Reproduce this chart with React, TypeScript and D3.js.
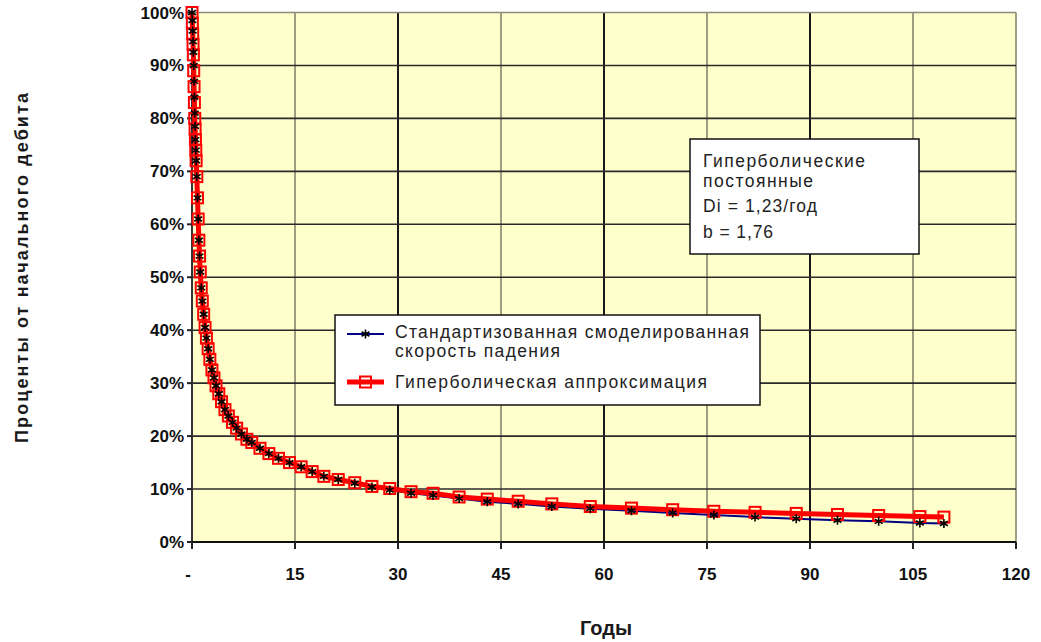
import React, { useRef, useEffect } from "react";
import * as d3 from "d3";

// years since start of production
const years = [
  0, 0.05, 0.1, 0.15, 0.2, 0.25, 0.3, 0.35, 0.4, 0.45, 0.5, 0.55, 0.6, 0.7, 0.8, 0.9,
  1.0, 1.1, 1.2, 1.35, 1.5, 1.7, 1.9, 2.1, 2.35, 2.6, 2.9, 3.2, 3.5, 3.9, 4.3, 4.8,
  5.3, 5.9, 6.5, 7.2, 8.0, 8.7, 9.9, 11.2, 12.6, 14.2, 15.9, 17.5, 19.2, 21.3, 23.7,
  26.2, 28.8, 31.9, 35.1, 38.9, 43, 47.5, 52.4, 58, 64, 70, 76, 82, 88, 94, 100, 106, 109.5,
];

// % of initial rate, standardised modelled decline
const modelled = [
  100, 98.5, 96.5, 94.5, 92.5, 90, 87, 84, 81, 78.5, 76, 74, 72, 69, 65, 61,
  57, 54, 51, 48, 45.5, 43, 40.5, 38.5, 36.5, 34.5, 32.5, 31, 29.5, 28, 26.5, 25,
  23.8, 22.6, 21.5, 20.4, 19.4, 18.8, 17.7, 16.7, 15.8, 15.0, 14.2, 13.3, 12.4, 11.8, 11.1,
  10.4, 9.8, 9.2, 8.8, 8.2, 7.6, 7.2, 6.7, 6.3, 5.9, 5.5, 5.1, 4.7, 4.4, 4.1, 3.9, 3.6, 3.5,
];

// % of initial rate, hyperbolic fit
const hyperbolic = [
  100, 98, 96, 94, 92, 89, 86, 83, 80, 78, 76, 74, 72, 69, 65, 61,
  57, 54, 51, 48, 45.5, 43, 40.5, 38.5, 36.5, 34.5, 32.5, 31, 29.5, 28, 26.5, 25,
  23.8, 22.6, 21.5, 20.4, 19.4, 18.8, 17.7, 16.7, 15.8, 15.0, 14.2, 13.3, 12.4, 11.8, 11.2,
  10.5, 10.1, 9.5, 9.2, 8.5, 8.1, 7.7, 7.2, 6.7, 6.4, 6.1, 5.8, 5.6, 5.4, 5.2, 5.0, 4.8, 4.7,
];

const xTicks = [0, 15, 30, 45, 60, 75, 90, 105, 120];
const yTicks = [0, 10, 20, 30, 40, 50, 60, 70, 80, 90, 100];

const legendLabels = [
  ["Стандартизованная смоделированная", "скорость падения"],
  ["Гиперболическая аппроксимация"],
];
const noteLines = ["Гиперболические", "постоянные", "Di = 1,23/год", "b = 1,76"];

const W = 1041;
const H = 642;

const App = () => {
  const svgRef = useRef<SVGSVGElement>(null);

  useEffect(() => {
    const svg = d3.select(svgRef.current);
    svg.selectAll("*").remove();

    const x = d3.scaleLinear().domain([0, 120]).range([192, 1016]);
    const y = d3.scaleLinear().domain([0, 100]).range([542, 12.5]);

    const bold = "'Liberation Sans', Arial, sans-serif";
    const plain = "'Liberation Sans', Arial, sans-serif";

    // plot background
    svg.append("rect")
      .attr("x", x(0)).attr("y", y(100))
      .attr("width", x(120) - x(0)).attr("height", y(0) - y(100))
      .attr("fill", "#ffffcc");

    // vertical grid
    svg.append("g")
      .selectAll("line")
      .data(xTicks.slice(1))
      .join("line")
      .attr("x1", d => x(d)).attr("x2", d => x(d))
      .attr("y1", y(100)).attr("y2", y(0))
      .attr("stroke", d => d % 30 === 0 && d !== 120 ? "#1a1a1a" : "#9e9e80")
      .attr("stroke-width", 2);

    // horizontal grid
    svg.append("g")
      .selectAll("line")
      .data(yTicks.slice(1))
      .join("line")
      .attr("x1", x(0)).attr("x2", x(120))
      .attr("y1", d => y(d)).attr("y2", d => y(d))
      .attr("stroke", d => d === 100 ? "#8a8a80" : "#2a2a2a")
      .attr("stroke-width", 1.6);

    // axes
    svg.append("line")
      .attr("x1", x(0)).attr("x2", x(0)).attr("y1", y(100)).attr("y2", y(0))
      .attr("stroke", "#333").attr("stroke-width", 2);
    svg.append("line")
      .attr("x1", x(0) - 5).attr("x2", x(120)).attr("y1", y(0)).attr("y2", y(0))
      .attr("stroke", "#111").attr("stroke-width", 2);

    svg.append("g")
      .selectAll("line")
      .data(xTicks)
      .join("line")
      .attr("x1", d => x(d)).attr("x2", d => x(d))
      .attr("y1", y(0)).attr("y2", y(0) + 7)
      .attr("stroke", "#222").attr("stroke-width", 2);

    svg.append("g")
      .selectAll("line")
      .data(yTicks)
      .join("line")
      .attr("x1", x(0) - 5).attr("x2", x(0))
      .attr("y1", d => y(d)).attr("y2", d => y(d))
      .attr("stroke", "#222").attr("stroke-width", 2);

    // tick labels
    svg.append("g")
      .selectAll("text")
      .data(yTicks)
      .join("text")
      .attr("x", 184)
      .attr("y", d => y(d) + 6)
      .attr("text-anchor", "end")
      .attr("font-family", bold)
      .attr("font-weight", "bold")
      .attr("font-size", 17)
      .attr("fill", "#111")
      .text(d => `${d}%`);

    svg.append("g")
      .selectAll("text")
      .data(xTicks)
      .join("text")
      .attr("x", d => d === 0 ? x(d) - 4 : x(d))
      .attr("y", 580)
      .attr("text-anchor", "middle")
      .attr("font-family", bold)
      .attr("font-weight", "bold")
      .attr("font-size", 17)
      .attr("fill", "#111")
      .text(d => d === 0 ? "-" : String(d));

    // axis titles
    svg.append("text")
      .attr("transform", `translate(28,${268}) rotate(-90)`)
      .attr("text-anchor", "middle")
      .attr("font-family", bold)
      .attr("font-weight", "bold")
      .attr("font-size", 18)
      .attr("textLength", 350)
      .attr("lengthAdjust", "spacing")
      .attr("fill", "#1a1a1a")
      .text("Проценты от начального дебита");

    svg.append("text")
      .attr("x", 606).attr("y", 635)
      .attr("text-anchor", "middle")
      .attr("font-family", bold)
      .attr("font-weight", "bold")
      .attr("font-size", 20)
      .attr("fill", "#1a1a1a")
      .text("Годы");

    const modelPts = years.map((t, i) => [x(t), y(modelled[i])] as [number, number]);
    const hypPts = years.map((t, i) => [x(t), y(hyperbolic[i])] as [number, number]);
    const line = d3.line();

    // series
    svg.append("path")
      .attr("d", line(modelPts))
      .attr("fill", "none")
      .attr("stroke", "#000080")
      .attr("stroke-width", 2);

    svg.append("path")
      .attr("d", line(hypPts))
      .attr("fill", "none")
      .attr("stroke", "#ff0000")
      .attr("stroke-width", 5)
      .attr("stroke-linejoin", "round");

    const sq = 11;
    svg.append("g")
      .selectAll("rect")
      .data(hypPts)
      .join("rect")
      .attr("x", d => d[0] - sq / 2).attr("y", d => d[1] - sq / 2)
      .attr("width", sq).attr("height", sq)
      .attr("fill", "none")
      .attr("stroke", "#ff0000")
      .attr("stroke-width", 2);

    const star = (cx: number, cy: number, r: number) =>
      `M${cx},${cy - r}L${cx},${cy + r}` +
      `M${cx - r * 0.87},${cy - r * 0.5}L${cx + r * 0.87},${cy + r * 0.5}` +
      `M${cx - r * 0.87},${cy + r * 0.5}L${cx + r * 0.87},${cy - r * 0.5}`;

    svg.append("g")
      .selectAll("path")
      .data(modelPts)
      .join("path")
      .attr("d", d => star(d[0], d[1], 4.5))
      .attr("stroke", "#000")
      .attr("stroke-width", 1.6);

    // legend
    const lg = svg.append("g");
    lg.append("rect")
      .attr("x", 335).attr("y", 315).attr("width", 425).attr("height", 90)
      .attr("fill", "#fff").attr("stroke", "#111").attr("stroke-width", 1.5);
    lg.append("line")
      .attr("x1", 347).attr("x2", 384).attr("y1", 334).attr("y2", 334)
      .attr("stroke", "#000080").attr("stroke-width", 2);
    lg.append("path").attr("d", star(365.5, 334, 4.5)).attr("stroke", "#000").attr("stroke-width", 1.6);
    lg.append("line")
      .attr("x1", 347).attr("x2", 384).attr("y1", 382).attr("y2", 382)
      .attr("stroke", "#ff0000").attr("stroke-width", 5);
    lg.append("rect")
      .attr("x", 365.5 - sq / 2).attr("y", 382 - sq / 2).attr("width", sq).attr("height", sq)
      .attr("fill", "none").attr("stroke", "#ff0000").attr("stroke-width", 2);

    // text widths as measured on the reference
    const legendWidths = [[354, 165], [312]];
    const legendY = [337.5, 388];
    legendLabels.forEach((lines, i) => {
      lines.forEach((s, j) => {
        lg.append("text")
          .attr("x", 395)
          .attr("y", legendY[i] + j * 19.8)
          .attr("font-family", plain)
          .attr("font-size", 17.5)
          .attr("textLength", legendWidths[i][j])
          .attr("lengthAdjust", "spacing")
          .attr("fill", "#222")
          .text(s);
      });
    });

    // constants box
    const nb = svg.append("g");
    nb.append("rect")
      .attr("x", 690).attr("y", 139).attr("width", 229).attr("height", 115)
      .attr("fill", "#fff").attr("stroke", "#111").attr("stroke-width", 1.5);
    const noteY = [166.5, 186.5, 212, 238];
    const noteWidths = [162, 110, 114, 70];
    noteLines.forEach((s, i) => {
      nb.append("text")
        .attr("x", 703)
        .attr("y", noteY[i])
        .attr("font-family", plain)
        .attr("font-size", 17.5)
        .attr("textLength", noteWidths[i])
        .attr("lengthAdjust", "spacing")
        .attr("fill", "#222")
        .text(s);
    });
  }, []);

  return (
    <svg
      ref={svgRef}
      width={W}
      height={H}
      style={{ position: "absolute", left: 0, top: 0, background: "#fff" }}
    />
  );
};

export default App;
